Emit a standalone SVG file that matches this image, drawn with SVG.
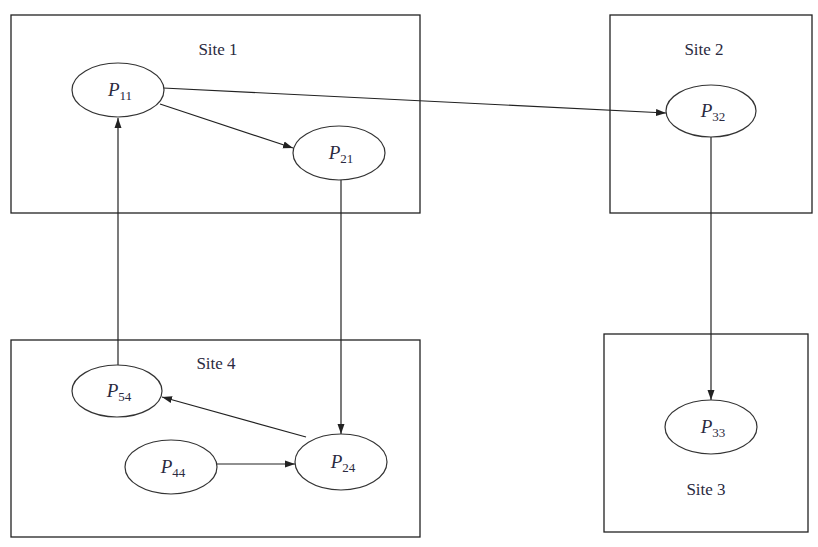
<svg xmlns="http://www.w3.org/2000/svg" width="818" height="547" viewBox="0 0 818 547">
<style>
.site{fill:none;stroke:#222;stroke-width:1.3}
.node{fill:#fff;stroke:#333;stroke-width:1.2}
.lbl{font-family:"Liberation Serif",serif;font-size:17px;fill:#2a2a40;text-anchor:middle}
.p{font-style:italic;font-size:19px}
.sub{font-size:13px}
.conn line{stroke:#222;stroke-width:1.2;marker-end:url(#ah)}
</style>
<defs>
<marker id="ah" viewBox="0 0 10 8" refX="10" refY="4" markerWidth="10" markerHeight="8" markerUnits="userSpaceOnUse" orient="auto">
<path d="M0,0.5 L10,4 L0,7.5 Z" fill="#222"/>
</marker>
</defs>
<rect width="818" height="547" fill="#fff"/>
<g id="site1"><rect class="site" x="11" y="15" width="409" height="198"/><text class="lbl" x="218" y="55">Site 1</text></g>
<g id="site2"><rect class="site" x="610" y="15" width="202" height="198"/><text class="lbl" x="704" y="55">Site 2</text></g>
<g id="site3"><rect class="site" x="604" y="334" width="204" height="198"/><text class="lbl" x="706" y="495">Site 3</text></g>
<g id="site4"><rect class="site" x="11" y="340" width="409" height="197"/><text class="lbl" x="216" y="369">Site 4</text></g>
<g class="conn">
<line x1="163" y1="88" x2="666" y2="113"/>
<line x1="160" y1="104" x2="293" y2="148"/>
<line x1="341" y1="180" x2="341" y2="434"/>
<line x1="306" y1="437" x2="162" y2="397"/>
<line x1="217" y1="464" x2="295" y2="464"/>
<line x1="118" y1="365" x2="118" y2="118"/>
<line x1="711" y1="137" x2="711" y2="400"/>
</g>
<g id="P11"><ellipse class="node" cx="118" cy="90" rx="46" ry="27"/><text class="lbl" x="120" y="96"><tspan class="p">P</tspan><tspan class="sub" dy="4">11</tspan></text></g>
<g id="P21"><ellipse class="node" cx="339" cy="153" rx="46" ry="27"/><text class="lbl" x="341" y="159"><tspan class="p">P</tspan><tspan class="sub" dy="4">21</tspan></text></g>
<g id="P32"><ellipse class="node" cx="711" cy="111" rx="45" ry="26"/><text class="lbl" x="713" y="117"><tspan class="p">P</tspan><tspan class="sub" dy="4">32</tspan></text></g>
<g id="P33"><ellipse class="node" cx="711" cy="427" rx="46" ry="27"/><text class="lbl" x="713" y="433"><tspan class="p">P</tspan><tspan class="sub" dy="4">33</tspan></text></g>
<g id="P54"><ellipse class="node" cx="117" cy="391" rx="45" ry="26"/><text class="lbl" x="119" y="397"><tspan class="p">P</tspan><tspan class="sub" dy="4">54</tspan></text></g>
<g id="P44"><ellipse class="node" cx="171" cy="467" rx="46" ry="27"/><text class="lbl" x="173" y="473"><tspan class="p">P</tspan><tspan class="sub" dy="4">44</tspan></text></g>
<g id="P24"><ellipse class="node" cx="341" cy="462" rx="46" ry="28"/><text class="lbl" x="343" y="468"><tspan class="p">P</tspan><tspan class="sub" dy="4">24</tspan></text></g>
</svg>
